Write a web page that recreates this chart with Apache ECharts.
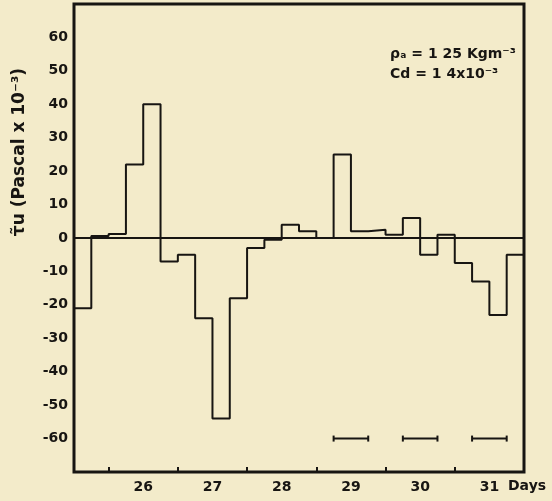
<!DOCTYPE html>
<html>
<head>
<meta charset="utf-8">
<script src="https://cdn.jsdelivr.net/npm/echarts@6/dist/echarts.min.js"></script>
<style>
html, body { margin: 0; padding: 0; background: #f3ebca; }
#main { width: 552px; height: 501px; }
</style>
</head>
<body>
<div id="main"></div>
<script>
// start of each 6-hour block (in days) and the stress in that block
var blockStart = [25.5, 25.75, 26, 26.25, 26.5, 26.75, 27, 27.25, 27.5, 27.75, 28, 28.25, 28.5,
    28.75, 29, 29.25, 29.5, 29.75, 30, 30.25, 30.5, 30.75, 31, 31.25, 31.5, 31.75];
var stress = [-21, 0.6, 1.2, 22, 40, -7, -5, -24, -54, -18, -3, -0.5, 4,
    2, 0, 25, 2, 2.5, 1, 6, -5, 1, -7.5, -13, -23, -5];
var lastEnd = 32;

var dayTicks = [26, 27, 28, 29, 30, 31];
var dayLabels = ['26', '27', '28', '29', '30', '31'];

// horizontal bars drawn at -60
var periods = [[29.25, 29.75], [30.25, 30.75], [31.25, 31.75]];
var periodLevel = -60;

var ink = '#171512';
var font = 'DejaVu Sans';

var chartDom = document.getElementById('main');
var myChart = echarts.init(chartDom);

var stepData = blockStart.map(function (x, i) { return [x, stress[i]]; });
stepData.push([lastEnd, stress[stress.length - 1]]);

var option = {
    backgroundColor: '#f3ebca',
    animation: false,
    grid: {
        left: 74,
        right: 28,
        top: 4,
        bottom: 29,
        show: true,
        borderWidth: 3,
        borderColor: ink,
        backgroundColor: 'transparent'
    },
    xAxis: {
        type: 'value',
        min: 25.5,
        max: lastEnd,
        axisLine: { show: false, onZero: false },
        splitLine: { show: false },
        axisTick: {
            show: true,
            inside: true,
            length: 5,
            customValues: dayTicks,
            lineStyle: { color: ink, width: 2 }
        },
        axisLabel: {
            customValues: dayTicks.map(function (d) { return d + 0.5; }),
            formatter: function (v) { return dayLabels[dayTicks.indexOf(Math.floor(v))]; },
            color: ink,
            fontFamily: font,
            fontWeight: 'bold',
            fontSize: 14,
            margin: 8
        }
    },
    yAxis: {
        type: 'value',
        min: -70,
        max: 70,
        interval: 10,
        axisLine: { show: false },
        axisTick: { show: false },
        splitLine: { show: false },
        axisLabel: {
            formatter: function (v) { return Math.abs(v) === 70 ? '' : String(v); },
            color: ink,
            fontFamily: font,
            fontWeight: 'bold',
            fontSize: 14,
            margin: 6
        }
    },
    graphic: [
        {
            type: 'text',
            left: 390,
            top: 44,
            style: {
                text: 'ρₐ = 1 25 Kgm⁻³\nCd = 1 4x10⁻³',
                fill: ink,
                font: 'bold 14px "DejaVu Sans"',
                lineHeight: 20
            }
        },
        {
            type: 'text',
            x: 20,
            y: 152,
            rotation: Math.PI / 2,
            style: {
                text: 'τ̃u (Pascal x 10⁻³)',
                fill: ink,
                font: 'bold 17px "DejaVu Sans"',
                align: 'center',
                verticalAlign: 'middle'
            }
        },
        {
            type: 'text',
            left: 508,
            top: 479,
            style: {
                text: 'Days',
                fill: ink,
                font: 'bold 14px "DejaVu Sans"'
            }
        }
    ],
    series: [
        {
            type: 'line',
            step: 'end',
            data: stepData,
            showSymbol: false,
            lineStyle: { color: ink, width: 2 },
            markLine: {
                silent: true,
                symbol: 'none',
                label: { show: false },
                lineStyle: { color: ink, width: 2, type: 'solid' },
                data: [{ yAxis: 0 }]
            }
        },
        {
            type: 'custom',
            data: periods.map(function (p) { return [p[0], p[1], periodLevel]; }),
            encode: { x: [0, 1], y: 2 },
            renderItem: function (params, api) {
                var s = api.coord([api.value(0), api.value(2)]);
                var e = api.coord([api.value(1), api.value(2)]);
                var st = { stroke: ink, lineWidth: 2 };
                return {
                    type: 'group',
                    children: [
                        { type: 'line', shape: { x1: s[0], y1: s[1], x2: e[0], y2: e[1] }, style: st },
                        { type: 'line', shape: { x1: s[0], y1: s[1] - 3, x2: s[0], y2: s[1] + 3 }, style: st },
                        { type: 'line', shape: { x1: e[0], y1: e[1] - 3, x2: e[0], y2: e[1] + 3 }, style: st }
                    ]
                };
            }
        }
    ]
};

option && myChart.setOption(option);
</script>
</body>
</html>
